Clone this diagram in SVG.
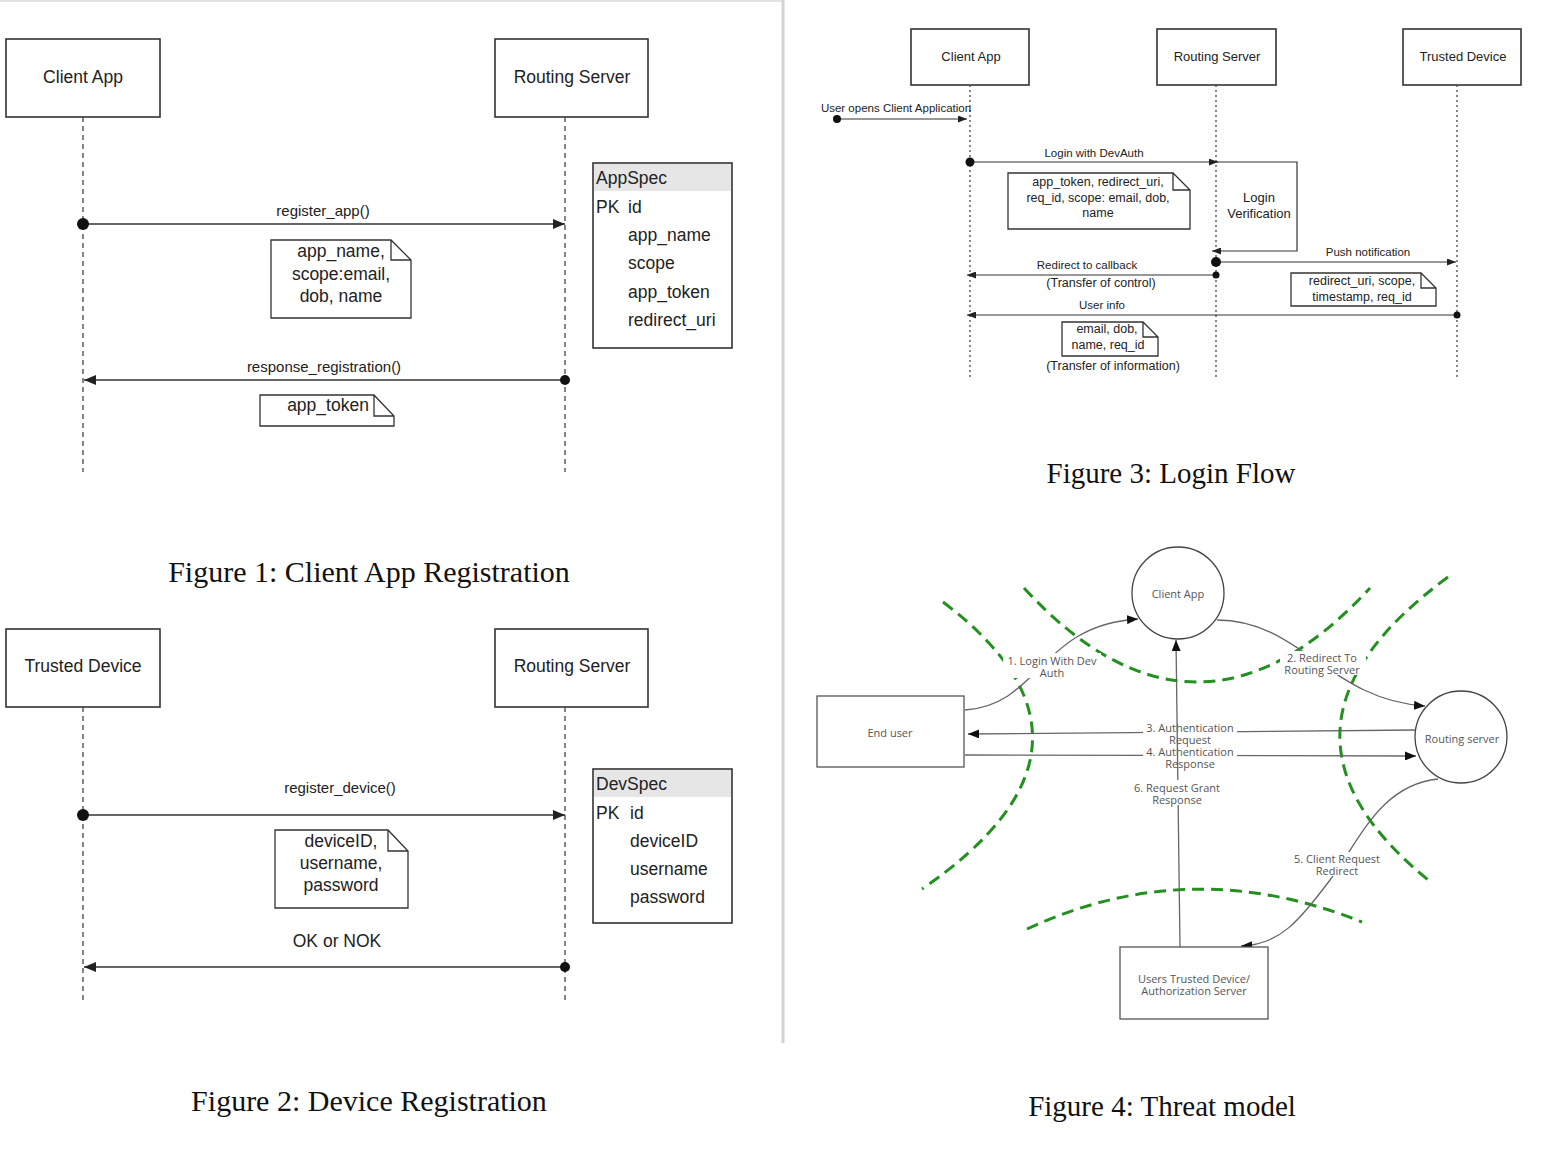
<svg xmlns="http://www.w3.org/2000/svg" width="1558" height="1160" viewBox="0 0 1558 1160">
<style>
text{dominant-baseline:central;text-anchor:middle}
.s{font-family:"Liberation Sans",Arial,sans-serif;fill:#222}
.t17{font-size:17.5px}
.t15{font-size:15px}
.t13{font-size:13px}
.t12{font-size:12.5px}
.t11{font-size:11.5px}
.cap{font-family:"Liberation Serif","Times New Roman",serif;font-size:30px;fill:#111}
.f4{font-family:"Open Sans","DejaVu Sans",sans-serif;font-size:11px;fill:#555}
.box{fill:#fff;stroke:#333;stroke-width:1.6}
.note{fill:#fff;stroke:#333;stroke-width:1.3}
.life{fill:none;stroke:#444;stroke-width:1.3;stroke-dasharray:5 4}
.life3{fill:none;stroke:#555;stroke-width:1.4;stroke-dasharray:2 3}
.msg{fill:none;stroke:#333;stroke-width:1.6}
.msg3{fill:none;stroke:#333;stroke-width:1.2}
.c4{fill:none;stroke:#666;stroke-width:1.3}
.zone{fill:none;stroke:#23901f;stroke-width:3;stroke-dasharray:12 7}
.l{text-anchor:start}
</style>
<defs>
<marker id="a1" viewBox="0 0 12 10" refX="12" refY="5" markerWidth="12" markerHeight="10" markerUnits="userSpaceOnUse" orient="auto"><path d="M0,0 L12,5 L0,10 z" fill="#222"/></marker>
<marker id="a3" viewBox="0 0 9 7" refX="9" refY="3.5" markerWidth="9" markerHeight="7" markerUnits="userSpaceOnUse" orient="auto"><path d="M0,0 L9,3.5 L0,7 z" fill="#222"/></marker>
<marker id="a4" viewBox="0 0 11 9" refX="11" refY="4.5" markerWidth="11" markerHeight="9" markerUnits="userSpaceOnUse" orient="auto"><path d="M0,0 L11,4.5 L0,9 z" fill="#111"/></marker>
</defs>
<rect width="1558" height="1160" fill="#fff"/>
<line x1="0" y1="1" x2="782" y2="1" stroke="#e2e2e2" stroke-width="2"/>
<line x1="783" y1="0" x2="783" y2="1043" stroke="#d4d4d4" stroke-width="3"/>

<!-- Figure 1 -->
<g id="fig1-client-app"><rect class="box" x="6" y="39" width="154" height="78"/><text class="s t17" x="83" y="77">Client App</text></g>
<g id="fig1-routing-server"><rect class="box" x="495" y="39" width="153" height="78"/><text class="s t17" x="572" y="77">Routing Server</text></g>
<g id="fig1-appspec">
<rect x="593" y="163" width="139" height="185" fill="#fff" stroke="#333" stroke-width="1.6"/>
<rect x="594" y="164" width="137" height="27" fill="#e6e6e6"/>
<text class="s t17 l" x="596" y="178">AppSpec</text>
<text class="s t17 l" x="596" y="207">PK</text><text class="s t17 l" x="628" y="207">id</text>
<text class="s t17 l" x="628" y="235">app_name</text>
<text class="s t17 l" x="628" y="263">scope</text>
<text class="s t17 l" x="628" y="292">app_token</text>
<text class="s t17 l" x="628" y="320">redirect_uri</text>
</g>
<g id="fig1-note-register">
<path class="note" d="M271,240 H391 L411,260 V318 H271 Z M391,240 V260 H411"/>
<text class="s t17" x="341" y="251">app_name,</text>
<text class="s t17" x="341" y="274">scope:email,</text>
<text class="s t17" x="341" y="296">dob, name</text>
</g>
<g id="fig1-note-token">
<path class="note" d="M260,395 H374 L394,416 V426 H260 Z M374,395 V416 H394"/>
<text class="s t17" x="328" y="405">app_token</text>
</g>
<text class="cap" x="369" y="571">Figure 1: Client App Registration</text>

<!-- Figure 2 -->
<g id="fig2-trusted-device"><rect class="box" x="6" y="629" width="154" height="78"/><text class="s t17" x="83" y="666">Trusted Device</text></g>
<g id="fig2-routing-server"><rect class="box" x="495" y="629" width="153" height="78"/><text class="s t17" x="572" y="666">Routing Server</text></g>
<g id="fig2-devspec">
<rect x="593" y="769" width="139" height="154" fill="#fff" stroke="#333" stroke-width="1.6"/>
<rect x="594" y="770" width="137" height="27" fill="#e6e6e6"/>
<text class="s t17 l" x="596" y="784">DevSpec</text>
<text class="s t17 l" x="596" y="813">PK</text><text class="s t17 l" x="630" y="813">id</text>
<text class="s t17 l" x="630" y="841">deviceID</text>
<text class="s t17 l" x="630" y="869">username</text>
<text class="s t17 l" x="630" y="897">password</text>
</g>
<g id="fig2-note">
<path class="note" d="M275,830 H388 L408,851 V908 H275 Z M388,830 V851 H408"/>
<text class="s t17" x="341" y="841">deviceID,</text>
<text class="s t17" x="341" y="863">username,</text>
<text class="s t17" x="341" y="885">password</text>
</g>
<text class="cap" x="369" y="1100">Figure 2: Device Registration</text>

<!-- Figure 3 -->
<g id="fig3-client-app"><rect class="box" x="911" y="29" width="118" height="56"/><text class="s t13" x="971" y="56">Client App</text></g>
<g id="fig3-routing-server"><rect class="box" x="1157" y="29" width="119" height="56"/><text class="s t13" x="1217" y="56">Routing Server</text></g>
<g id="fig3-trusted-device"><rect class="box" x="1403" y="29" width="118" height="56"/><text class="s t13" x="1463" y="56">Trusted Device</text></g>
<g id="fig3-note-login">
<path class="note" d="M1008,173 H1173 L1190,190 V229 H1008 Z M1173,173 V190 H1190"/>
<text class="s t12" x="1098" y="182">app_token, redirect_uri,<tspan x="1098" dy="16">req_id, scope: email, dob,</tspan><tspan x="1098" dy="15">name</tspan></text>
</g>
<g id="fig3-note-push">
<path class="note" d="M1291,273 H1421 L1436,288 V306 H1291 Z M1421,273 V288 H1436"/>
<text class="s t12" x="1362" y="281">redirect_uri, scope,<tspan x="1362" dy="16">timestamp, req_id</tspan></text>
</g>
<g id="fig3-note-info">
<path class="note" d="M1062,322 H1143 L1158,337 V356 H1062 Z M1143,322 V337 H1158"/>
<text class="s t12" x="1107" y="329">email, dob,<tspan x="1108" dy="16">name, req_id</tspan></text>
</g>
<text class="cap" x="1171" y="473" style="font-size:29px">Figure 3: Login Flow</text>

<!-- Figure 4 zones -->
<g id="fig4-trust-boundaries">
<path class="zone" d="M943,602 Q1132,745 922,889"/>
<path class="zone" d="M1024,588 Q1197,776 1370,588"/>
<path class="zone" d="M1448,577 Q1240,730 1432,883"/>
<path class="zone" d="M1027,929 Q1190,853 1362,922"/>
</g>

<!-- Connectors -->
<g id="connectors">
<!-- fig1 -->
<line class="life" x1="83" y1="117" x2="83" y2="472"/>
<line class="life" x1="565" y1="117" x2="565" y2="472"/>
<line class="msg" x1="83" y1="224" x2="565" y2="224" marker-end="url(#a1)"/>
<circle cx="83" cy="224" r="6" fill="#111"/>
<text class="s t15" x="323" y="210">register_app()</text>
<line class="msg" x1="565" y1="380" x2="84" y2="380" marker-end="url(#a1)"/>
<circle cx="565" cy="380" r="5" fill="#111"/>
<text class="s t15" x="324" y="366">response_registration()</text>
<!-- fig2 -->
<line class="life" x1="83" y1="707" x2="83" y2="1000"/>
<line class="life" x1="565" y1="707" x2="565" y2="1000"/>
<line class="msg" x1="83" y1="815" x2="565" y2="815" marker-end="url(#a1)"/>
<circle cx="83" cy="815" r="6" fill="#111"/>
<text class="s t15" x="340" y="787">register_device()</text>
<line class="msg" x1="565" y1="967" x2="84" y2="967" marker-end="url(#a1)"/>
<circle cx="565" cy="967" r="5" fill="#111"/>
<text class="s t17" x="337" y="941">OK or NOK</text>
<!-- fig3 -->
<line class="life3" x1="970" y1="85" x2="970" y2="380"/>
<line class="life3" x1="1216" y1="85" x2="1216" y2="380"/>
<line class="life3" x1="1457" y1="85" x2="1457" y2="380"/>
<line class="msg3" x1="837" y1="119" x2="967" y2="119" marker-end="url(#a3)"/>
<circle cx="837" cy="119" r="4" fill="#111"/>
<text class="s t11" x="896" y="108">User opens Client Application</text>
<line class="msg3" x1="970" y1="162" x2="1218" y2="162" marker-end="url(#a3)"/>
<circle cx="970" cy="162" r="4.5" fill="#111"/>
<text class="s t11" x="1094" y="153">Login with DevAuth</text>
<polyline class="msg3" points="1216,162 1297,162 1297,251 1212,251" marker-end="url(#a3)"/>
<text class="s t13" x="1259" y="197">Login<tspan x="1259" dy="16">Verification</tspan></text>
<line class="msg3" x1="1216" y1="262" x2="1456" y2="262" marker-end="url(#a3)"/>
<circle cx="1216" cy="262" r="5" fill="#111"/>
<text class="s t11" x="1368" y="252">Push notification</text>
<line class="msg3" x1="1216" y1="275" x2="967" y2="275" marker-end="url(#a3)"/>
<circle cx="1216" cy="275" r="3.5" fill="#111"/>
<text class="s t11" x="1087" y="265">Redirect to callback</text>
<text class="s t12" x="1101" y="283">(Transfer of control)</text>
<line class="msg3" x1="1457" y1="315" x2="967" y2="315" marker-end="url(#a3)"/>
<circle cx="1457" cy="315" r="3.5" fill="#111"/>
<text class="s t11" x="1102" y="305">User info</text>
<text class="s t12" x="1113" y="366">(Transfer of information)</text>
<!-- fig4 -->
<path class="c4" d="M965,710 C1040,705 1040,625 1138,619" marker-end="url(#a4)"/>
<path class="c4" d="M1217,620 C1300,620 1330,700 1425,706" marker-end="url(#a4)"/>
<path class="c4" d="M1415,730 L968,734" marker-end="url(#a4)"/>
<path class="c4" d="M965,755 L1416,756" marker-end="url(#a4)"/>
<path class="c4" d="M1438,779 C1380,785 1360,840 1330,880 S1280,945 1241,946" marker-end="url(#a4)"/>
<rect x="1003" y="653" width="98" height="25" fill="#fff"/>
<text class="f4" x="1052" y="660">1. Login With Dev<tspan x="1052" dy="12">Auth</tspan></text>
<rect x="1280" y="651" width="86" height="24" fill="#fff"/>
<text class="f4" x="1322" y="657">2. Redirect To<tspan x="1322" dy="12">Routing Server</tspan></text>
<rect x="1143" y="720" width="94" height="49" fill="#fff"/>
<text class="f4" x="1190" y="727">3. Authentication<tspan x="1190" dy="12">Request</tspan><tspan x="1190" dy="12">4. Authentication</tspan><tspan x="1190" dy="12">Response</tspan></text>
<rect x="1290" y="852" width="94" height="24" fill="#fff"/>
<text class="f4" x="1337" y="858">5. Client Request<tspan x="1337" dy="12">Redirect</tspan></text>
<path class="c4" d="M1180,947 L1176,640" marker-end="url(#a4)"/>
<rect x="1130" y="780" width="94" height="25" fill="#fff"/>
<text class="f4" x="1177" y="787">6. Request Grant<tspan x="1177" dy="12">Response</tspan></text>
</g>

<!-- Figure 4 nodes -->
<g id="fig4-client-app"><circle cx="1178" cy="593" r="46" fill="#fff" stroke="#444" stroke-width="1.3"/><text class="f4" x="1178" y="593">Client App</text></g>
<g id="fig4-end-user"><rect x="817" y="696" width="147" height="71" fill="#fff" stroke="#555" stroke-width="1.3"/><text class="f4" x="890" y="732">End user</text></g>
<g id="fig4-routing-server"><circle cx="1461" cy="737" r="46" fill="#fff" stroke="#444" stroke-width="1.3"/><text class="f4" x="1462" y="738">Routing server</text></g>
<g id="fig4-trusted-device"><rect x="1120" y="947" width="148" height="72" fill="#fff" stroke="#555" stroke-width="1.3"/><text class="f4" x="1194" y="978">Users Trusted Device/<tspan x="1194" dy="12">Authorization Server</tspan></text></g>
<text class="cap" x="1162" y="1106" style="font-size:29px">Figure 4: Threat model</text>
</svg>
